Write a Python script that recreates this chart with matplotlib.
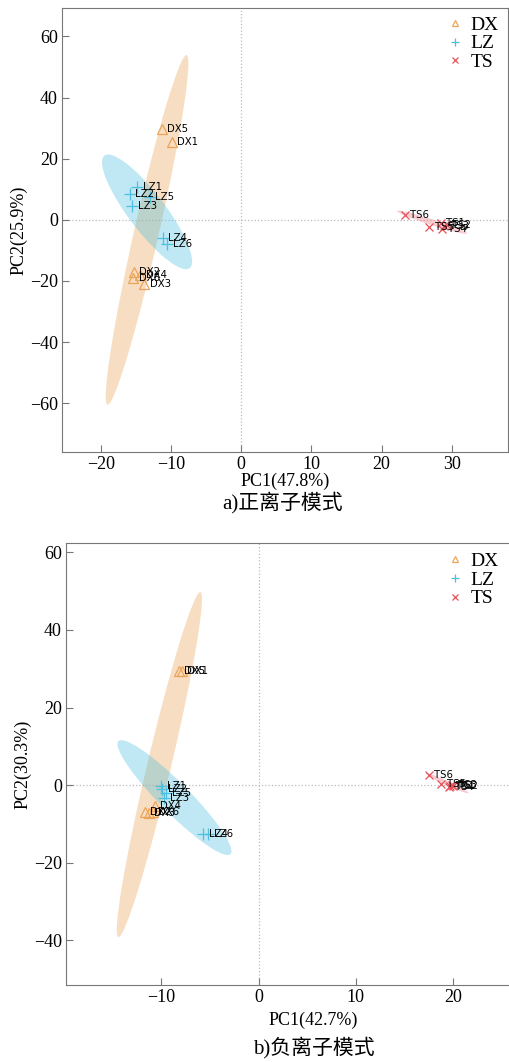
import numpy as np
import matplotlib
matplotlib.use("Agg")
import matplotlib.pyplot as plt
from matplotlib.patches import Ellipse

plt.rcParams['font.family'] = ['Liberation Serif', 'Noto Sans CJK SC']

# ---------- data: positive ion mode ----------
pos_names = {
    "DX": ["DX1", "DX2", "DX3", "DX4", "DX5", "DX6"],
    "LZ": ["LZ1", "LZ2", "LZ3", "LZ4", "LZ5", "LZ6"],
    "TS": ["TS1", "TS2", "TS3", "TS4", "TS5", "TS6"],
}
pos_x = {
    "DX": [-9.9, -15.3, -13.8, -14.4, -11.3, -15.4],
    "LZ": [-14.8, -15.9, -15.5, -11.2, -13.0, -10.5],
    "TS": [28.4, 29.3, 28.9, 28.6, 26.8, 23.3],
}
pos_y = {
    "DX": [25.6, -17.1, -21.0, -18.2, 29.7, -18.9],
    "LZ": [10.7, 8.5, 4.4, -5.8, 7.6, -7.9],
    "TS": [-1.2, -1.6, -2.0, -3.0, -2.4, 1.6],
}
# ellipse: center x, center y, major, minor, angle (deg)
pos_ell = {
    "DX": [-13.4, -3.3, 115.0, 3.6, 84.4],
    "LZ": [-13.4, 2.6, 39.2, 6.2, -73.1],
    "TS": [27.2, -0.8, 12.5, 1.6, -36.9],
}

# ---------- data: negative ion mode ----------
neg_names = pos_names
neg_x = {
    "DX": [-7.9, -11.7, -11.3, -10.7, -8.2, -10.9],
    "LZ": [-10.0, -9.9, -9.7, -5.7, -9.5, -5.2],
    "TS": [19.7, 20.0, 19.9, 19.6, 18.8, 17.5],
}
neg_y = {
    "DX": [29.5, -7.0, -7.2, -5.3, 29.5, -6.8],
    "LZ": [-0.3, -1.0, -3.3, -12.5, -2.0, -12.5],
    "TS": [-0.2, -0.3, 0.0, -0.4, 0.3, 2.6],
}
neg_ell = {
    "DX": [-10.2, 5.3, 89.3, 2.5, 84.6],
    "LZ": [-8.65, -3.2, 31.6, 4.0, -69.4],
    "TS": [19.4, 0.5, 6.8, 0.8, -49.8],
}

groups = ["DX", "LZ", "TS"]
markers = {"DX": "^", "LZ": "+", "TS": "x"}
msizes = {"DX": 7, "LZ": 9, "TS": 6}
colors = {"DX": "#EBA458", "LZ": "#4DBFE0", "TS": "#E8505A"}
fills = {"DX": "#E9A04F", "LZ": "#4DBFE0", "TS": "#F0707A"}


def draw_panel(fig, ax, xs, ys, names, ell, xlim, ylim, xticks, yticks,
               xlabel, ylabel, leg_top, xpad):
    ax.axhline(0, color="#BBBBBB", ls=":", lw=0.9, zorder=0)
    ax.axvline(0, color="#BBBBBB", ls=":", lw=0.9, zorder=0)
    for g in groups:
        cx, cy, w, h, ang = ell[g]
        ax.add_patch(Ellipse((cx, cy), w, h, angle=ang, facecolor=fills[g],
                             alpha=0.35, edgecolor="none", zorder=1))
    for g in groups:
        if markers[g] == "^":
            ax.plot(xs[g], ys[g], ls="none", marker="^", ms=msizes[g], mfc="none",
                    mec=colors[g], mew=0.9, label=g, zorder=3)
        else:
            ax.plot(xs[g], ys[g], ls="none", marker=markers[g], ms=msizes[g],
                    color=colors[g], mew=0.9, label=g, zorder=3)
        for x, y, n in zip(xs[g], ys[g], names[g]):
            ax.annotate(n, (x, y), xytext=(4, 0), textcoords="offset points",
                        fontsize=7.3, family="DejaVu Sans", va="center", zorder=4)
    ax.set_xlim(*xlim)
    ax.set_ylim(*ylim)
    ax.set_xticks(xticks)
    ax.set_yticks(yticks)
    ax.tick_params(direction="in", labelsize=13, color="#777777", length=5, pad=3)
    for s in ax.spines.values():
        s.set_color("#777777")
    ax.set_xlabel(xlabel, fontsize=13, labelpad=xpad)
    ax.set_ylabel(ylabel, fontsize=13, labelpad=2)
    ax.legend(loc="upper right", bbox_to_anchor=(0.995, leg_top),
              bbox_transform=fig.transFigure, frameon=False, fontsize=14,
              handletextpad=0.3, borderaxespad=0.0, labelspacing=0.05,
              handlelength=1.0, markerscale=0.7)


fig = plt.figure(figsize=(5.09, 10.62), dpi=100)
ax1 = fig.add_axes([0.122, 0.5744, 0.876, 0.418])
ax2 = fig.add_axes([0.1297, 0.0725, 0.9705, 0.4162])

draw_panel(fig, ax1, pos_x, pos_y, pos_names, pos_ell, (-25.5, 38), (-76, 69.3),
           [-20, -10, 0, 10, 20, 30], [-60, -40, -20, 0, 20, 40, 60],
           "PC1(47.8%)", "PC2(25.9%)", 0.992, 0)
draw_panel(fig, ax2, neg_x, neg_y, neg_names, neg_ell, (-19.8, 31.0), (-51.5, 62.4),
           [-10, 0, 10, 20], [-40, -20, 0, 20, 40, 60],
           "PC1(42.7%)", "PC2(30.3%)", 0.487, 4)
fig.text(0.556, 0.527, "a)正离子模式", ha="center", va="center", fontsize=15)
fig.text(0.617, 0.0141, "b)负离子模式", ha="center", va="center", fontsize=15)

fig.savefig("out.png", dpi=100)
